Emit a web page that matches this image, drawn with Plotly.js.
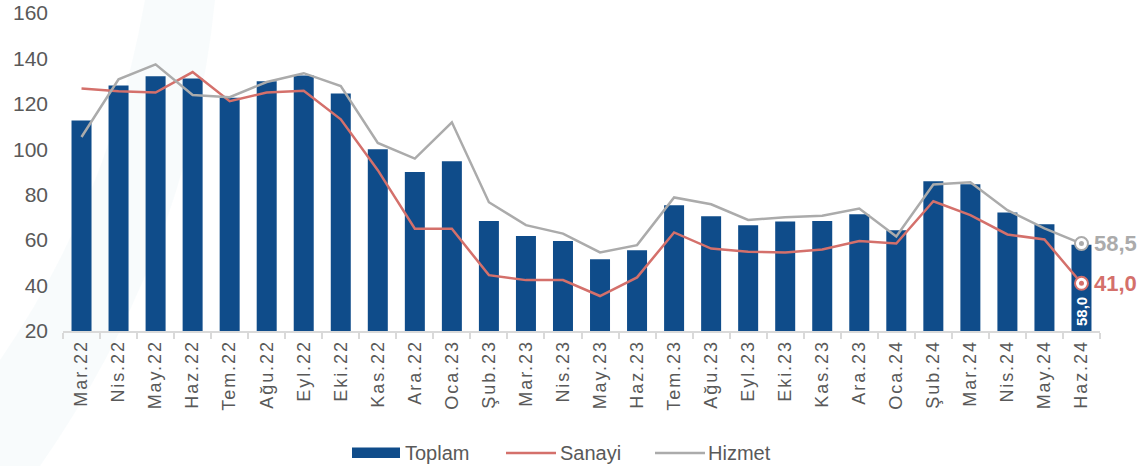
<!DOCTYPE html>
<html>
<head>
<meta charset="utf-8">
<script src="https://cdn.plot.ly/plotly-3.0.1.min.js"></script>
<style>
html,body{margin:0;padding:0;background:#fff;}
#chart{width:1142px;height:466px;}
.xtick text{letter-spacing:1.9px;}
</style>
</head>
<body>
<div id="chart"></div>
<script>
const categories = ["Mar.22","Nis.22","May.22","Haz.22","Tem.22","Ağu.22","Eyl.22","Eki.22","Kas.22","Ara.22","Oca.23","Şub.23","Mar.23","Nis.23","May.23","Haz.23","Tem.23","Ağu.23","Eyl.23","Eki.23","Kas.23","Ara.23","Oca.24","Şub.24","Mar.24","Nis.24","May.24","Haz.24"];
const toplam = [112.7,128.1,132.1,131.2,122.7,129.9,132.5,124.6,100.0,90.0,94.7,68.4,61.8,59.6,51.6,55.6,75.4,70.5,66.6,68.2,68.4,71.4,64.4,85.9,84.6,72.2,67.0,58.0];
const sanayi = [126.8,125.6,125.0,134.0,121.2,125.0,125.8,113.2,90.8,65.0,65.0,44.6,42.4,42.4,35.4,43.6,63.4,56.3,54.9,54.6,55.9,59.6,58.5,77.1,71.0,62.5,60.3,41.0];
const hizmet = [105.4,130.8,137.4,123.9,122.9,129.6,133.5,127.8,102.8,95.9,111.9,76.7,66.6,62.9,54.6,57.8,78.8,75.8,68.9,70.1,70.7,73.9,61.6,84.5,85.5,73.2,65.2,58.5];
const seriesNames = ["Toplam","Sanayi","Hizmet"];

const blue = "#0f4c8a", red = "#d4706b", gray = "#ababab", txt = "#595959";
const last = categories.length - 1;
const fmt = v => v.toFixed(1).replace(".", ",");

// plot area in pixels: left 63, right 1100, top 13, bottom 331
const PL = 63, PR = 1100, PT = 13, PB = 331;
const px = X => (X - PL) / (PR - PL);
const py = Y => (PB - Y) / (PB - PT);

const traces = [
  {type:"bar", name:seriesNames[0], x:categories, y:toplam, marker:{color:blue}, showlegend:false},
  {type:"scatter", mode:"lines", name:seriesNames[1], x:categories, y:sanayi, line:{color:red, width:2.5}, showlegend:false},
  {type:"scatter", mode:"lines", name:seriesNames[2], x:categories, y:hizmet, line:{color:gray, width:2.5}, showlegend:false},
  {type:"scatter", mode:"markers", showlegend:false, x:[categories[last], categories[last]], y:[hizmet[last], sanayi[last]],
   marker:{size:13, color:"#fff", line:{color:[gray, red], width:2}}, hoverinfo:"skip"},
  {type:"scatter", mode:"markers", showlegend:false, x:[categories[last], categories[last]], y:[hizmet[last], sanayi[last]],
   marker:{size:5, color:[gray, red]}, hoverinfo:"skip"}
];

const bgFill = "rgba(228,238,245,0.25)";
const layout = {
  width:1142, height:466,
  margin:{l:PL, r:1142-PR, t:PT, b:466-PB, autoexpand:false},
  paper_bgcolor:"#fff", plot_bgcolor:"rgba(0,0,0,0)",
  font:{family:"Liberation Sans, Arial, sans-serif", color:txt},
  bargap:0.46,
  showlegend:false,
  xaxis:{type:"category", range:[-0.5, categories.length - 0.5], automargin:false, tickangle:-90, tickfont:{size:18, color:txt}, showline:true, linecolor:"#d9d9d9", linewidth:2,
         ticks:"outside", tickson:"boundaries", ticklen:6, tickcolor:"#d9d9d9", tickwidth:2, showgrid:false},
  yaxis:{range:[20,160], dtick:20, automargin:false, tickfont:{size:21, color:txt}, showgrid:false, zeroline:false, showline:false, ticks:"", ticklabelstandoff:14},
  shapes:[
    {type:"path", xref:"paper", yref:"paper", layer:"below", line:{width:0}, fillcolor:bgFill,
     path:`M ${px(145)} ${py(0)} Q ${px(110)} ${py(200)} ${px(0)} ${py(360)} L ${px(0)} ${py(466)} L ${px(40)} ${py(466)} Q ${px(190)} ${py(250)} ${px(215)} ${py(0)} Z`},
    {type:"rect", xref:"paper", yref:"paper", x0:px(352), x1:px(400), y0:py(447.5), y1:py(458), fillcolor:blue, line:{width:0}},
    {type:"line", xref:"paper", yref:"paper", x0:px(506), x1:px(556), y0:py(453), y1:py(453), line:{color:red, width:2.5}},
    {type:"line", xref:"paper", yref:"paper", x0:px(655), x1:px(705), y0:py(453), y1:py(453), line:{color:gray, width:2.5}}
  ],
  annotations:[
    {x:categories[last], y:hizmet[last], xref:"x", yref:"y", text:"<b>"+fmt(hizmet[last])+"</b>", showarrow:false, xanchor:"left", xshift:11, font:{size:22, color:gray}},
    {x:categories[last], y:sanayi[last], xref:"x", yref:"y", text:"<b>"+fmt(sanayi[last])+"</b>", showarrow:false, xanchor:"left", xshift:11, font:{size:22, color:red}},
    {x:categories[last], y:20, xref:"x", yref:"y", text:"<b>"+fmt(toplam[last])+"</b>", showarrow:false, textangle:-90, yanchor:"bottom", yshift:3, font:{size:15, color:"#fff"}},
    {xref:"paper", yref:"paper", x:px(403), y:py(453), xanchor:"left", yanchor:"middle", showarrow:false, text:seriesNames[0], font:{size:20, color:txt}},
    {xref:"paper", yref:"paper", x:px(558), y:py(453), xanchor:"left", yanchor:"middle", showarrow:false, text:seriesNames[1], font:{size:20, color:txt}},
    {xref:"paper", yref:"paper", x:px(706), y:py(453), xanchor:"left", yanchor:"middle", showarrow:false, text:seriesNames[2], font:{size:20, color:txt}}
  ]
};

Plotly.newPlot("chart", traces, layout, {displayModeBar:false, staticPlot:true});
</script>
</body>
</html>
